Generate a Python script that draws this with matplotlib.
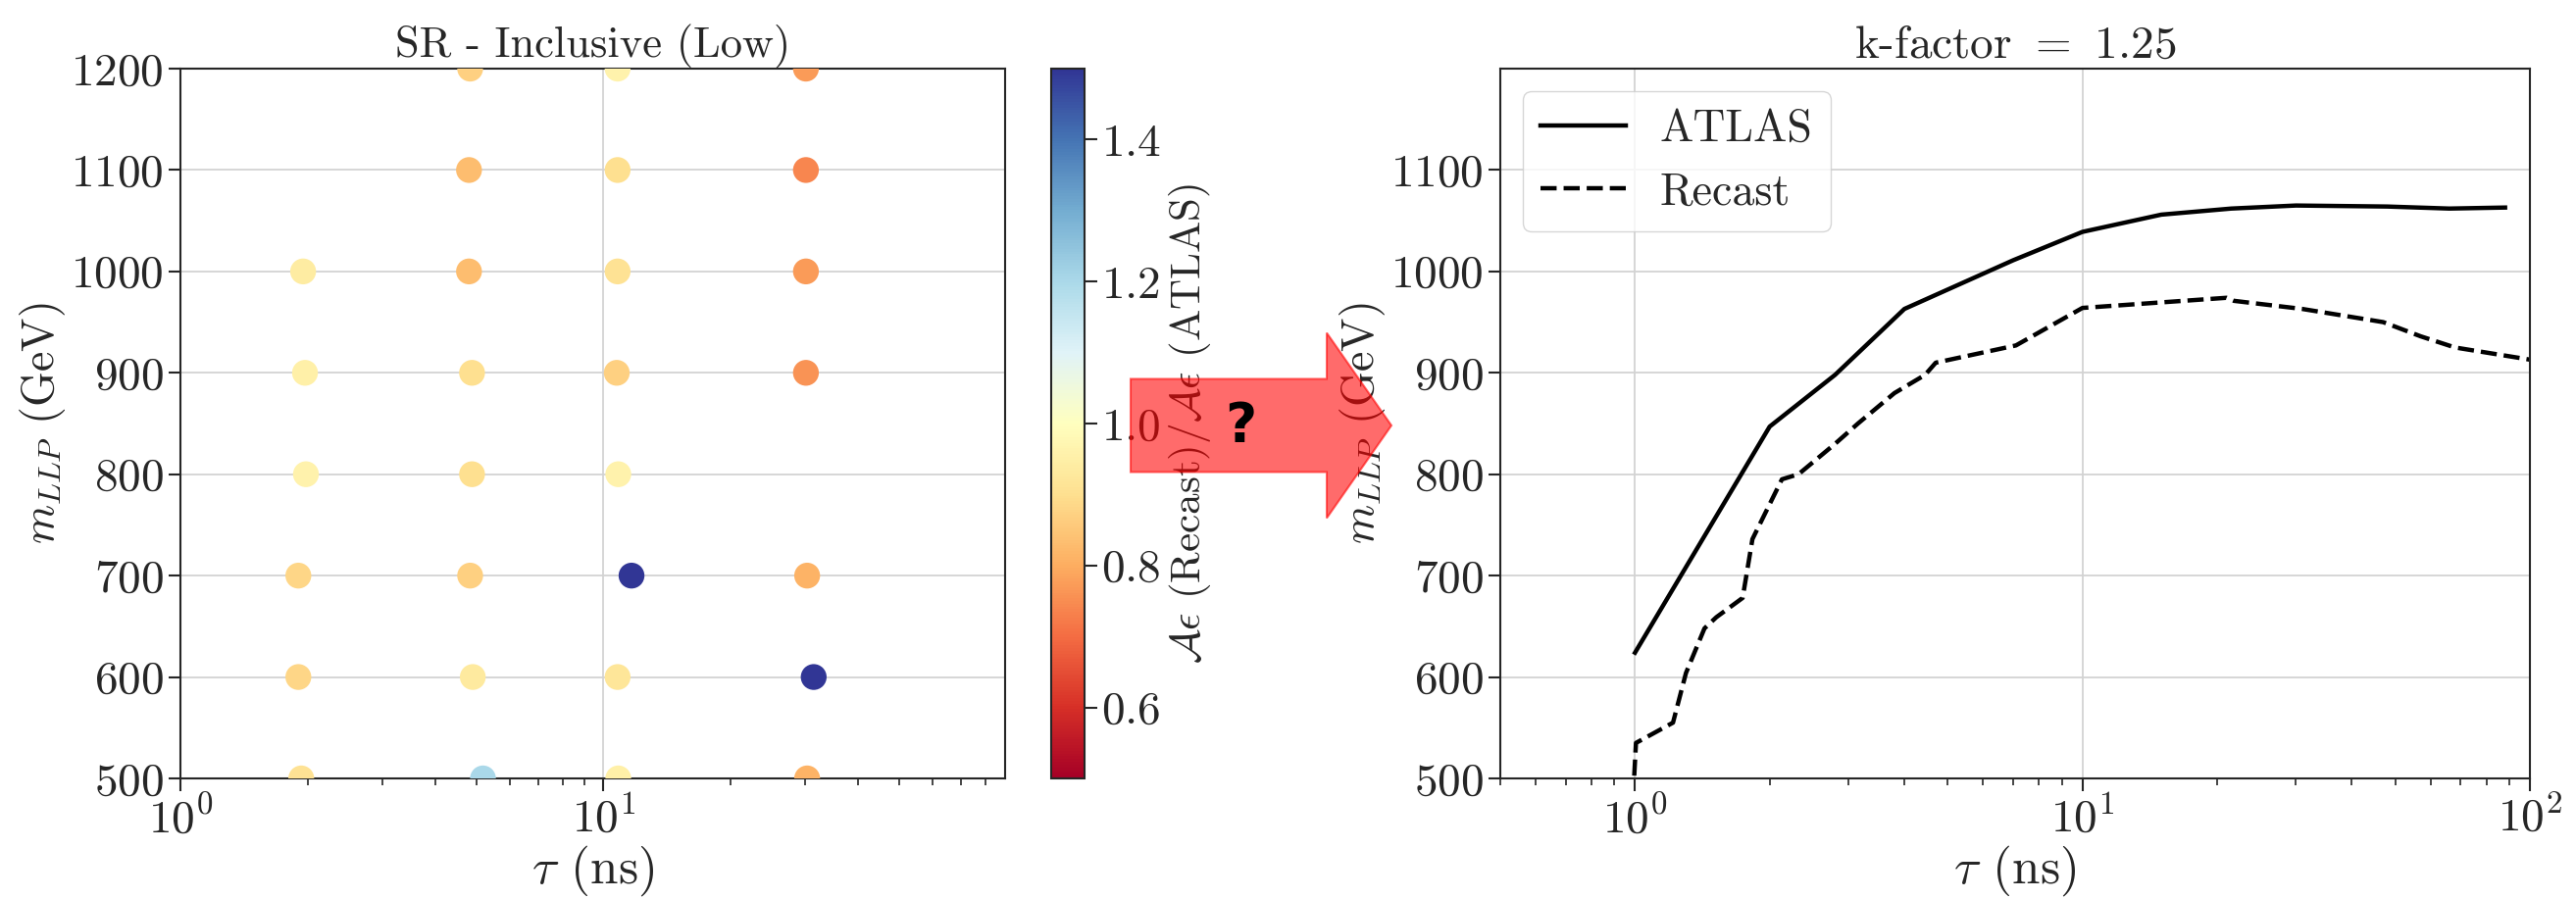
import matplotlib

matplotlib.use('Agg')
import matplotlib.pyplot as plt
from matplotlib.patches import FancyArrow
from matplotlib.ticker import NullFormatter

# left panel: Ae(Recast)/Ae(ATLAS) on the (tau, mass) grid
tau_points = [1.95, 1.97, 1.98, 1.90, 1.90, 1.93,
              4.84, 4.81, 4.81, 4.89, 4.89, 4.84, 4.91, 5.19,
              10.8, 10.8, 10.8, 10.75, 10.84, 11.65, 10.8, 10.84,
              30.1, 30.1, 30.1, 30.1, 30.3, 31.4, 30.3]
mass_points = [1000, 900, 800, 700, 600, 500,
               1200, 1100, 1000, 900, 800, 700, 600, 500,
               1200, 1100, 1000, 900, 800, 700, 600, 500,
               1200, 1100, 1000, 900, 700, 600, 500]
ratio_points = [0.94, 0.95, 0.96, 0.88, 0.88, 0.91,
                0.87, 0.83, 0.83, 0.90, 0.90, 0.87, 0.93, 1.20,
                0.96, 0.90, 0.91, 0.87, 0.96, 1.60, 0.92, 0.95,
                0.77, 0.74, 0.77, 0.76, 0.81, 1.60, 0.81]

# right panel: exclusion contours, k-factor = 1.25
tau_atlas = [1.0, 2.0, 2.8, 4.0, 7.0, 10.0, 15.0, 21.5, 30.0, 48.0, 66.0, 88.0]
mass_atlas = [624, 847, 898, 963, 1011, 1039, 1056, 1062, 1065, 1064, 1062, 1063]
tau_recast = [0.99, 1.005, 1.216, 1.30, 1.43, 1.52, 1.74, 1.83, 2.13, 2.32, 2.80, 3.15,
              3.8, 4.45, 4.7, 7.1, 10.0, 21.0, 21.8, 31.0, 47.0, 57.0, 68.0, 100.0]
mass_recast = [480, 535, 555, 604, 648, 659, 678, 736, 795, 800, 830, 850,
               880, 898, 910, 927, 964, 974, 971, 963, 950, 936, 925, 913]

mass_ticks_left = [500, 600, 700, 800, 900, 1000, 1100, 1200]
mass_ticks_right = [500, 600, 700, 800, 900, 1000, 1100]
cbar_ticks = [0.6, 0.8, 1.0, 1.2, 1.4]

dark = '#262626'
plt.rcParams.update({
    'font.family': 'serif',
    'font.serif': ['cmr10'],
    'mathtext.fontset': 'cm',
    'axes.formatter.use_mathtext': True,
    'axes.unicode_minus': False,
    'font.size': 33,
    'text.color': dark,
    'axes.labelcolor': dark,
    'axes.edgecolor': dark,
    'axes.linewidth': 1.5,
    'xtick.color': dark,
    'ytick.color': dark,
    'xtick.direction': 'out',
    'ytick.direction': 'out',
    'xtick.major.size': 9,
    'ytick.major.size': 9,
    'xtick.minor.size': 5,
    'ytick.minor.size': 5,
    'xtick.major.width': 1.5,
    'ytick.major.width': 1.5,
    'xtick.minor.width': 1.2,
    'ytick.minor.width': 1.2,
    'xtick.labelsize': 34,
    'ytick.labelsize': 34,
})

W, H = 2627, 917
fig = plt.figure(figsize=(W / 100, H / 100), dpi=100)


def style_axes(ax):
    ax.grid(True, which='major', color='#d3d3d3', lw=1.3)
    ax.set_axisbelow(True)
    ax.xaxis.set_minor_formatter(NullFormatter())
    ax.set_xlabel(r'$\tau$ (ns)', fontsize=37, labelpad=2)
    ax.set_ylabel(r'$m_{LLP}$ (GeV)', fontsize=33, labelpad=2)


#
# Left: ratio scatter
#
ax1 = fig.add_axes([184 / W, 1 - 794 / H, (1025 - 184) / W, (794 - 70) / H])
sc = ax1.scatter(tau_points, mass_points, c=ratio_points, cmap='RdYlBu', vmin=0.5, vmax=1.5,
                 s=360, edgecolors='none', zorder=3)
ax1.set_xscale('log')
ax1.set_xlim(1, 89)
ax1.set_ylim(500, 1200)
ax1.set_yticks(mass_ticks_left)
ax1.set_title('SR - Inclusive (Low)', fontsize=32, pad=8)
style_axes(ax1)

cax = fig.add_axes([1072 / W, 1 - 794 / H, 34 / W, (794 - 70) / H])
cb = fig.colorbar(sc, cax=cax, ticks=cbar_ticks)
cb.outline.set_linewidth(1.5)
cb.set_label(r'$\mathcal{A}\epsilon$ (Recast)$/\mathcal{A}\epsilon$ (ATLAS)', fontsize=31)

#
# Right: contours
#
ax2 = fig.add_axes([1530 / W, 1 - 794 / H, (2580 - 1530) / W, (794 - 70) / H])
ax2.plot(tau_atlas, mass_atlas, color='black', lw=3.2, ls='-', label='ATLAS')
ax2.plot(tau_recast, mass_recast, color='black', lw=3.2, ls='--', label='Recast')
ax2.set_xscale('log')
ax2.set_xlim(0.5, 100)
ax2.set_ylim(500, 1200)
ax2.set_yticks(mass_ticks_right)
ax2.set_title(r'k-factor $=$ 1.25', fontsize=34, pad=8)
style_axes(ax2)
leg = ax2.legend(loc='upper left', fontsize=33, handlelength=1.9, handletextpad=0.75,
                 fancybox=True, framealpha=0.8, edgecolor='#cccccc')

#
# Arrow between the panels
#
arrow = FancyArrow(1153 / 100, (H - 434) / 100, 266 / 100, 0, width=0.95, head_width=1.89,
                   head_length=0.66, length_includes_head=True, transform=fig.dpi_scale_trans,
                   color='red', alpha=0.58, lw=1.5, zorder=10)
fig.add_artist(arrow)
fig.text(1265 / W, (H - 435) / H, '?', fontsize=40, fontweight='bold', family='DejaVu Sans',
         color='black', ha='center', va='center', zorder=11)

fig.savefig('out.png', dpi=100)
